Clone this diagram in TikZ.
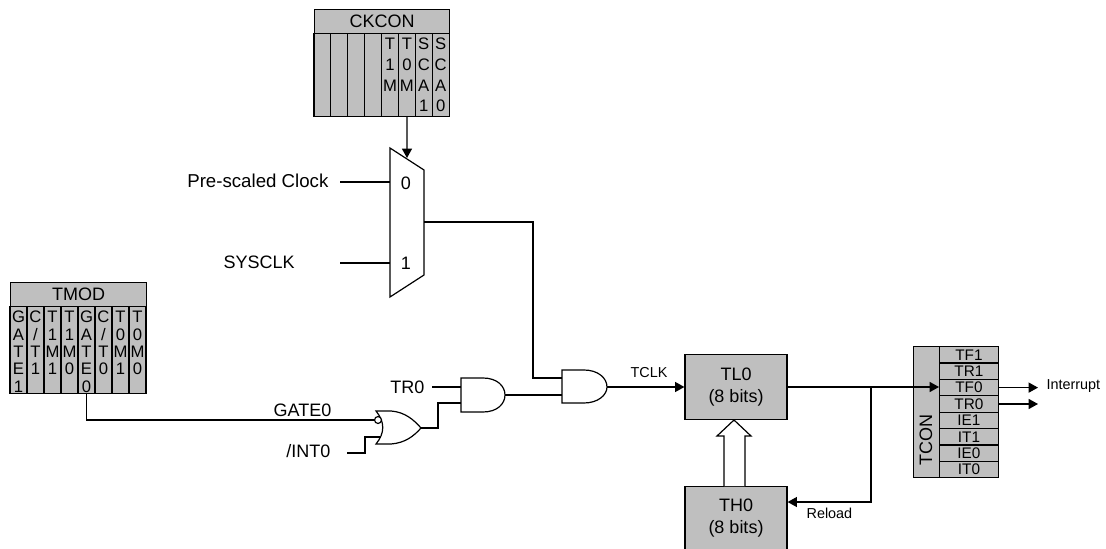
\documentclass[tikz,border=0pt]{standalone}
\usepackage{fontspec}
\setmainfont{Liberation Sans}
\usetikzlibrary{arrows.meta,positioning,calc}

\begin{document}
\begin{tikzpicture}[x=0.75pt,y=-0.75pt,font=\fontsize{13.5}{16}\selectfont,line width=0.9pt,
  regfill/.style={fill=black!25},
  regbox/.style={draw, regfill, inner sep=0pt, minimum width=76.5pt, minimum height=48.75pt, align=center},
  reghead/.style={draw, regfill, inner sep=0pt, anchor=north west, minimum height=18pt},
  bitcell/.style={draw, regfill, inner sep=0pt, anchor=north, minimum width=12.7pt},
  bittext/.style={anchor=north, inner sep=0pt, yshift=-3.5pt, align=center, font=\fontsize{12.5}{13}\selectfont},
  widebittext/.style={bittext, font=\fontsize{12.5}{15.5}\selectfont},
  tconrow/.style={draw, regfill, inner sep=0pt, anchor=north west, minimum width=44pt, minimum height=12.3pt, font=\fontsize{11.5}{12}\selectfont},
  gate/.style={draw, fill=white},
  lab/.style={inner sep=0pt},
  smalllab/.style={lab, anchor=west, font=\fontsize{10.8}{12}\selectfont},
  sig/.style={-{Triangle[length=7pt,width=7.5pt]}}]
\useasboundingbox (0,0) rectangle (1106,549);
% CKCON register
\node[reghead, minimum width=101.3pt] (ckcon) at (314,9) {CKCON};
\foreach \i/\txt in {0/{},1/{},2/{},3/{},4/{T\\1\\M},5/{T\\0\\M},6/{S\\C\\A\\1},7/{S\\C\\A\\0}}
  \node[bitcell, minimum height=62pt, label={[widebittext]north:\txt}] (ck\i) at ({322.4+16.9*\i},33) {};
% TMOD register
\node[reghead, minimum width=102pt] (tmod) at (10,282) {TMOD};
\foreach \i/\txt in {0/{G\\A\\T\\E\\1},1/{C\\/\\T\\1},2/{T\\1\\M\\1},3/{T\\1\\M\\0},4/{G\\A\\T\\E\\0},5/{C\\/\\T\\0},6/{T\\0\\M\\1},7/{T\\0\\M\\0}}
  \node[bitcell, minimum height=65pt, label={[bittext]north:\txt}] (tm\i) at ({18.5+17*\i},306) {};
% mux
\draw[gate] (390,148) -- (424,170) -- (424,275) -- (390,297) -- cycle;
\coordinate (muxsel) at (407,158);
\coordinate (muxa) at (390,182);
\coordinate (muxb) at (390,263);
\coordinate (muxout) at (424,222);
\node[lab] (mux0) at (406,183) {0};
\node[lab] (mux1) at (406,263) {1};
\node[lab, anchor=east, font=\fontsize{14}{16}\selectfont] (presc) at (329,181) {Pre-scaled Clock};
\node[lab, anchor=west] (sysclk) at (223,262) {SYSCLK};
\coordinate (prescend) at (340,182);
\coordinate (sysend) at (340,263);
% gates
\draw[gate] (461,378) -- (483,378) .. controls (497,378) and (505,386) .. (505,395) .. controls (505,404) and (497,412) .. (483,412) -- (461,412) -- cycle;
\draw[gate] (562,370) -- (584,370) .. controls (598,370) and (607,378) .. (607,387) .. controls (607,395) and (598,403) .. (584,403) -- (562,403) -- cycle;
\draw[gate] (376,411) -- (391,411) .. controls (405,412) and (414,420) .. (421,428) .. controls (414,436) and (405,443) .. (391,444) -- (376,444) .. controls (385,433) and (385,422) .. (376,411) -- cycle;
\node[circle, draw, fill=white, inner sep=0pt, minimum size=5.2pt] (inv) at (378,420) {};
\coordinate (oroutp) at (421,428);
\coordinate (orb) at (381,437);
\coordinate (anda) at (461,387);
\coordinate (andb) at (461,403);
\coordinate (andout) at (505,395);
\coordinate (andtwoa) at (562,378);
\coordinate (andtwob) at (562,395);
\coordinate (andtwoout) at (607,387);
\node[lab, anchor=east] (trzero) at (425,387) {TR0};
\coordinate (trend) at (432,387);
\node[lab, anchor=west] (gatezero) at (273,410) {GATE0};
\node[lab, anchor=east] (intzero) at (331,451) {/INT0};
\coordinate (intend) at (347,453);
\node[smalllab] (tclk) at (630,373) {TCLK};
% timer registers
\node[regbox] (tl0) at (736,387) {TL0\\[1pt](8 bits)};
\node[regbox, minimum height=47.5pt] (th0) at (736,518) {TH0\\[1pt](8 bits)};
\draw[gate] (724,486) -- (724,436) -- (717,436) -- (734,420) -- (751,436) -- (745,436) -- (745,486);
\coordinate (junc) at (871,387);
\coordinate (relcorner) at (871,502);
\node[smalllab] (reload) at (806,513) {Reload};
% TCON register
\node[draw, regfill, inner sep=0pt, anchor=north west, minimum width=19.5pt, minimum height=98.4pt] (tcon) at (913,346) {};
\foreach \i/\txt in {0/TF1,1/TR1,2/TF0,3/TR0,4/IE1,5/IT1,6/IE0,7/IT0}
  \node[tconrow] (tc\i) at (939,{346+16.4*\i}) {\txt};
\node[lab, rotate=90] (tconlab) at (926,440) {TCON};
\coordinate (intr) at (1038,387);
\coordinate (trout) at (1038,403);
\node[smalllab] (intlab) at (1046,386) {Interrupt};
% wires
\draw[sig] (ck5.south) -- (muxsel);
\draw (prescend) -- (muxa);
\draw (sysend) -- (muxb);
\draw (muxout) -| (533,378) -- (andtwoa);
\draw (tm4.south) |- (inv.west);
\draw (intend) -| (365,437) -- (orb);
\draw (trend) -- (anda);
\draw (oroutp) -| (438,403) -- (andb);
\draw (andout) -- (andtwob);
\draw[sig] (andtwoout) -- (tl0.west);
\draw[sig] (tl0.east) -- (tl0.east -| tc2.west);
\draw[sig] (junc) -- (relcorner) -- (th0.east |- relcorner);
\draw[sig] (tc2.east) -- (tc2.east -| intr);
\draw[sig] (tc3.east) -- (tc3.east -| trout);
\end{tikzpicture}
\end{document}
